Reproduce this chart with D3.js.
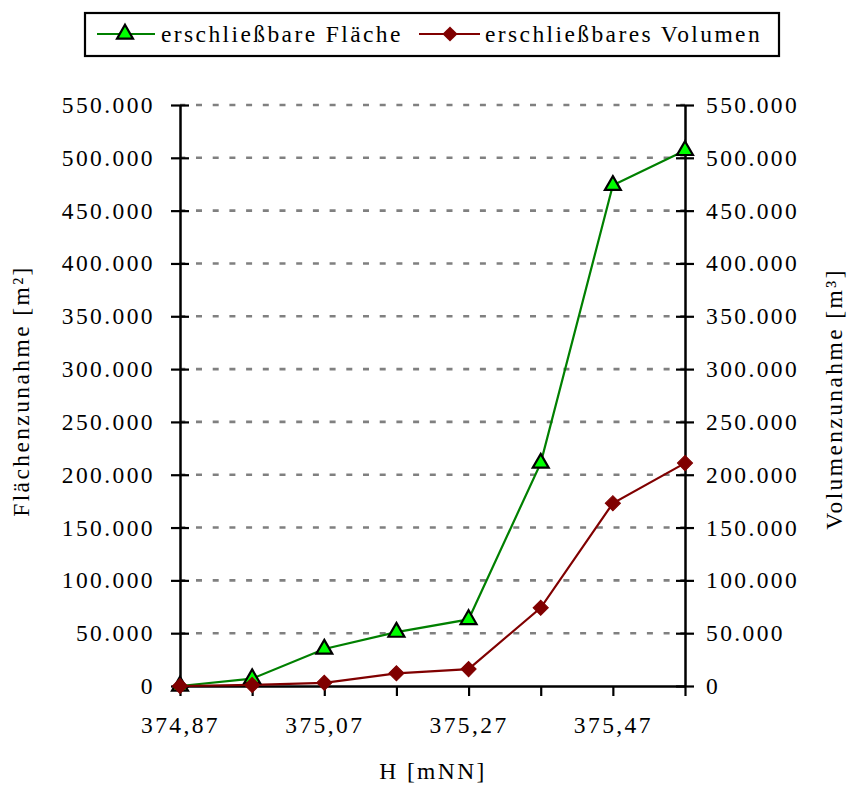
<!DOCTYPE html>
<html lang="de">
<head>
<meta charset="UTF-8" />
<title>Flächen- und Volumenzunahme</title>
<style>
  body { margin: 0; background: #fff; }
  svg text { font-family: "Liberation Serif", "Times New Roman", serif; fill: #000; font-size: 23.5px; letter-spacing: 2.4px; }
</style>
</head>
<body>
<svg id="chart" width="849" height="785"></svg>
<script src="https://cdn.jsdelivr.net/npm/d3@7"></script>
<script>
// data
var heights = [374.87, 374.97, 375.07, 375.17, 375.27, 375.37, 375.47, 375.57];
var flaeche = [0, 7000, 35000, 51000, 63000, 211000, 474000, 507000];
var volumen = [0, 1000, 3000, 12000, 16000, 74000, 173000, 211000];
var yTicks = [0, 50000, 100000, 150000, 200000, 250000, 300000, 350000, 400000, 450000, 500000, 550000];
var xLabels = ["374,87", "375,07", "375,27", "375,47"];

var svg = d3.select("#chart");

var plotL = 180, plotR = 685, plotT = 105, plotB = 686;

var xScale = d3.scalePoint()
  .domain(heights)
  .range([plotL, plotR]);

var yScale = d3.scaleLinear()
  .domain([0, 550000])
  .range([plotB, plotT]);

var fmt = function(v) {
  return d3.format(",")(v).replace(/,/g, ".");
};

// grid lines
svg.append("g")
  .selectAll("line")
  .data(yTicks.filter(function(d) { return d > 0; }))
  .enter().append("line")
  .attr("x1", plotL)
  .attr("x2", plotR)
  .attr("y1", function(d) { return yScale(d); })
  .attr("y2", function(d) { return yScale(d); })
  .attr("stroke", "#808080")
  .attr("stroke-width", 2.6)
  .attr("stroke-dasharray", "6,10.7")
  .attr("stroke-dashoffset", 0.7);

// left axis
var yAxisL = d3.axisLeft(yScale)
  .tickValues(yTicks)
  .tickFormat(fmt)
  .tickSizeInner(8)
  .tickSizeOuter(0)
  .tickPadding(17);
var gl = svg.append("g")
  .attr("transform", "translate(" + plotL + ",0)")
  .call(yAxisL);
gl.selectAll(".tick line").attr("x2", -9).attr("x1", 9);

// right axis
var yAxisR = d3.axisRight(yScale)
  .tickValues(yTicks)
  .tickFormat(fmt)
  .tickSizeInner(8)
  .tickSizeOuter(0)
  .tickPadding(13);
var gr = svg.append("g")
  .attr("transform", "translate(" + plotR + ",0)")
  .call(yAxisR);
gr.selectAll(".tick line").attr("x1", -9).attr("x2", 9);

// x axis
var xAxis = d3.axisBottom(xScale)
  .tickSizeInner(10)
  .tickSizeOuter(0)
  .tickPadding(20)
  .tickFormat(function(d, i) { return i % 2 === 0 ? xLabels[i / 2] : ""; });
svg.append("g")
  .attr("transform", "translate(0," + plotB + ")")
  .call(xAxis);

svg.selectAll(".domain").attr("stroke", "#000").attr("stroke-width", 2.5);
svg.selectAll(".tick line").attr("stroke", "#000").attr("stroke-width", 2.2);
svg.selectAll(".tick text")
  .style("font-family", "'Liberation Serif', serif")
  .style("font-size", "23.5px")
  .style("letter-spacing", "2.4px");

// lines
var line = d3.line()
  .x(function(d, i) { return xScale(heights[i]); })
  .y(function(d) { return yScale(d); });

svg.append("path")
  .datum(flaeche)
  .attr("fill", "none")
  .attr("stroke", "#008000")
  .attr("stroke-width", 2.2)
  .attr("d", line);

svg.append("path")
  .datum(volumen)
  .attr("fill", "none")
  .attr("stroke", "#800000")
  .attr("stroke-width", 2.2)
  .attr("d", line);

var triangle = d3.symbol().type(d3.symbolTriangle).size(110);
var diamond = d3.symbol().type(d3.symbolSquare).size(115);

svg.append("g")
  .selectAll("path")
  .data(flaeche)
  .enter().append("path")
  .attr("d", triangle)
  .attr("transform", function(d, i) { return "translate(" + xScale(heights[i]) + "," + yScale(d) + ")"; })
  .attr("fill", "#00ff00")
  .attr("stroke", "#000")
  .attr("stroke-width", 2.2);

svg.append("g")
  .selectAll("path")
  .data(volumen)
  .enter().append("path")
  .attr("d", diamond)
  .attr("transform", function(d, i) { return "translate(" + xScale(heights[i]) + "," + yScale(d) + ") rotate(45)"; })
  .attr("fill", "#800000")
  .attr("stroke", "#800000")
  .attr("stroke-width", 1);

// axis titles
svg.append("text")
  .attr("transform", "translate(29,391) rotate(-90)")
  .attr("text-anchor", "middle")
  .text("Flächenzunahme [m²]");

svg.append("text")
  .attr("transform", "translate(842,399) rotate(-90)")
  .attr("text-anchor", "middle")
  .text("Volumenzunahme [m³]");

svg.append("text")
  .attr("x", 433)
  .attr("y", 779)
  .attr("text-anchor", "middle")
  .text("H [mNN]");

// legend
var legend = svg.append("g");
legend.append("rect")
  .attr("x", 85)
  .attr("y", 13)
  .attr("width", 694)
  .attr("height", 43)
  .attr("fill", "#fff")
  .attr("stroke", "#000")
  .attr("stroke-width", 2.2);

legend.append("line")
  .attr("x1", 97).attr("x2", 155).attr("y1", 34).attr("y2", 34)
  .attr("stroke", "#008000").attr("stroke-width", 2.2);
legend.append("path")
  .attr("d", triangle)
  .attr("transform", "translate(125,34)")
  .attr("fill", "#00ff00").attr("stroke", "#000").attr("stroke-width", 2.2);
legend.append("text")
  .attr("x", 161).attr("y", 42)
  .text("erschließbare Fläche");

legend.append("line")
  .attr("x1", 419).attr("x2", 480).attr("y1", 34).attr("y2", 34)
  .attr("stroke", "#800000").attr("stroke-width", 2.2);
legend.append("path")
  .attr("d", diamond)
  .attr("transform", "translate(450,34) rotate(45)")
  .attr("fill", "#800000");
legend.append("text")
  .attr("x", 485).attr("y", 42)
  .text("erschließbares Volumen");
</script>
</body>
</html>
